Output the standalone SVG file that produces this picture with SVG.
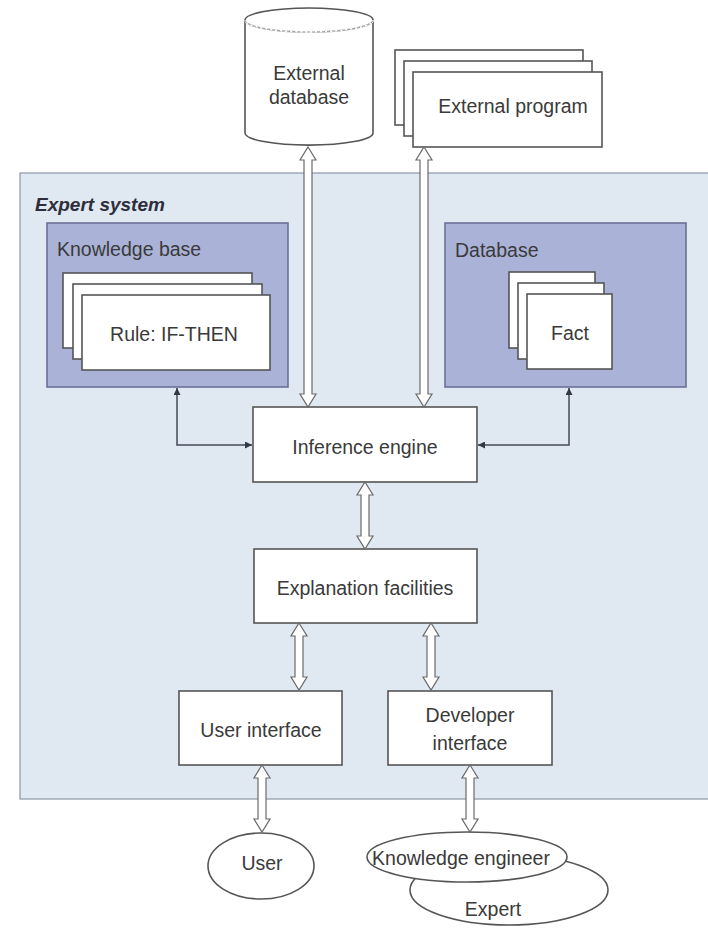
<svg xmlns="http://www.w3.org/2000/svg" width="708" height="945" viewBox="0 0 708 945">
  <style>
    .lbl { font-family: "Liberation Sans", Arial, sans-serif; font-size: 19.5px; fill: #3a3a3a; text-anchor: middle; }
    .lbl-l { font-family: "Liberation Sans", Arial, sans-serif; font-size: 19.5px; fill: #3a3a3a; }
    .title { font-family: "Liberation Sans", Arial, sans-serif; font-size: 19px; font-weight: bold; font-style: italic; fill: #2e2e3a; }
    .box { fill: #ffffff; stroke: #555555; stroke-width: 1.6; }
    .panel { fill: #aab2d8; stroke: #6b7096; stroke-width: 1.6; }
    .hollow { fill: #ffffff; stroke: #6a6a6a; stroke-width: 1.2; stroke-linejoin: miter; }
    .thin { fill: none; stroke: #444a5a; stroke-width: 1.5; }
  </style>
  <defs>
    <marker id="tip" viewBox="0 0 10 10" refX="10" refY="5" markerWidth="7" markerHeight="7" orient="auto-start-reverse" markerUnits="userSpaceOnUse">
      <path d="M0,0 L10,5 L0,10 z" fill="#333844"/>
    </marker>
  </defs>

  <rect width="708" height="945" fill="#ffffff"/>

  <!-- Expert system boundary -->
  <g id="expert-system">
    <rect x="20" y="173" width="700" height="626" fill="#e0e8f2" stroke="#8d96a6" stroke-width="1.2"/>
    <text class="title" x="35" y="211">Expert system</text>
  </g>

  <!-- External database (cylinder) -->
  <g id="external-database">
    <path d="M245,20 V133 A63.5,12 0 0 0 373,133 V20" class="box"/>
    <ellipse cx="309" cy="20" rx="64" ry="12" class="box"/>
    <path d="M245,20 A64,12 0 0 0 373,20" fill="none" stroke="#ffffff" stroke-width="1.8"/>
    <path d="M245,20 A64,12 0 0 0 373,20" fill="none" stroke="#8a8a8a" stroke-width="1" stroke-dasharray="3,2"/>
    <text class="lbl" x="309" y="80">External</text>
    <text class="lbl" x="309" y="104">database</text>
  </g>

  <!-- External program (stack) -->
  <g id="external-program">
    <rect x="395" y="50" width="188" height="75" class="box"/>
    <rect x="404" y="61" width="188" height="75" class="box"/>
    <rect x="413" y="72" width="189" height="75" class="box"/>
    <text class="lbl" x="513" y="113">External program</text>
  </g>

  <!-- Knowledge base -->
  <g id="knowledge-base">
    <rect x="47" y="223" width="241" height="164" class="panel"/>
    <text class="lbl-l" x="57" y="256">Knowledge base</text>
    <rect x="63" y="273" width="189" height="75" class="box"/>
    <rect x="73" y="284" width="189" height="75" class="box"/>
    <rect x="82" y="295" width="188" height="75" class="box"/>
    <text class="lbl" x="174" y="341">Rule: IF-THEN</text>
  </g>

  <!-- Database -->
  <g id="database">
    <rect x="445" y="223" width="241" height="164" class="panel"/>
    <text class="lbl-l" x="455" y="257">Database</text>
    <rect x="509" y="272" width="86" height="76" class="box"/>
    <rect x="518" y="283" width="86" height="76" class="box"/>
    <rect x="527" y="294" width="85" height="75" class="box"/>
    <text class="lbl" x="570" y="340">Fact</text>
  </g>

  <!-- Inference engine -->
  <g id="inference-engine">
    <rect x="253" y="407" width="224" height="75" class="box"/>
    <text class="lbl" x="365" y="454">Inference engine</text>
  </g>

  <!-- Explanation facilities -->
  <g id="explanation-facilities">
    <rect x="254" y="549" width="223" height="74" class="box"/>
    <text class="lbl" x="365" y="595">Explanation facilities</text>
  </g>

  <!-- User interface -->
  <g id="user-interface">
    <rect x="179" y="691" width="163" height="74" class="box"/>
    <text class="lbl" x="261" y="737">User interface</text>
  </g>

  <!-- Developer interface -->
  <g id="developer-interface">
    <rect x="388" y="691" width="164" height="74" class="box"/>
    <text class="lbl" x="470" y="722">Developer</text>
    <text class="lbl" x="470" y="750">interface</text>
  </g>

  <!-- User -->
  <g id="user">
    <ellipse cx="261" cy="866" rx="53" ry="33" class="box"/>
    <text class="lbl" x="262" y="870">User</text>
  </g>

  <!-- Expert (behind knowledge engineer) -->
  <g id="expert">
    <ellipse cx="509" cy="890" rx="99" ry="35" class="box"/>
    <text class="lbl" x="493" y="916">Expert</text>
  </g>

  <!-- Knowledge engineer -->
  <g id="knowledge-engineer">
    <ellipse cx="467" cy="857" rx="100" ry="25" class="box"/>
    <text class="lbl" x="461" y="865">Knowledge engineer</text>
  </g>

  <!-- Connectors -->
  <g id="connectors">
    <!-- hollow two-way arrows: tips at y1 and y2, centred on x -->
    <path class="hollow" d="M308,147 L316,160 L312,160 L312,394 L316,394 L308,407 L300,394 L304,394 L304,160 L300,160 Z"/>
    <path class="hollow" d="M424,147 L432,160 L428,160 L428,394 L432,394 L424,407 L416,394 L420,394 L420,160 L416,160 Z"/>
    <path class="hollow" d="M365,482 L373,495 L369,495 L369,536 L373,536 L365,549 L357,536 L361,536 L361,495 L357,495 Z"/>
    <path class="hollow" d="M299,623 L307,636 L303,636 L303,677 L307,677 L299,690 L291,677 L295,677 L295,636 L291,636 Z"/>
    <path class="hollow" d="M431,623 L439,636 L435,636 L435,677 L439,677 L431,690 L423,677 L427,677 L427,636 L423,636 Z"/>
    <path class="hollow" d="M262,765 L270,778 L266,778 L266,819 L270,819 L262,832 L254,819 L258,819 L258,778 L254,778 Z"/>
    <path class="hollow" d="M470,765 L478,778 L474,778 L474,819 L478,819 L470,832 L462,819 L466,819 L466,778 L462,778 Z"/>
    <!-- thin elbow arrows to the inference engine -->
    <path class="thin" d="M177,388 V445 H252" marker-start="url(#tip)" marker-end="url(#tip)"/>
    <path class="thin" d="M569,388 V445 H478" marker-start="url(#tip)" marker-end="url(#tip)"/>
  </g>
</svg>
